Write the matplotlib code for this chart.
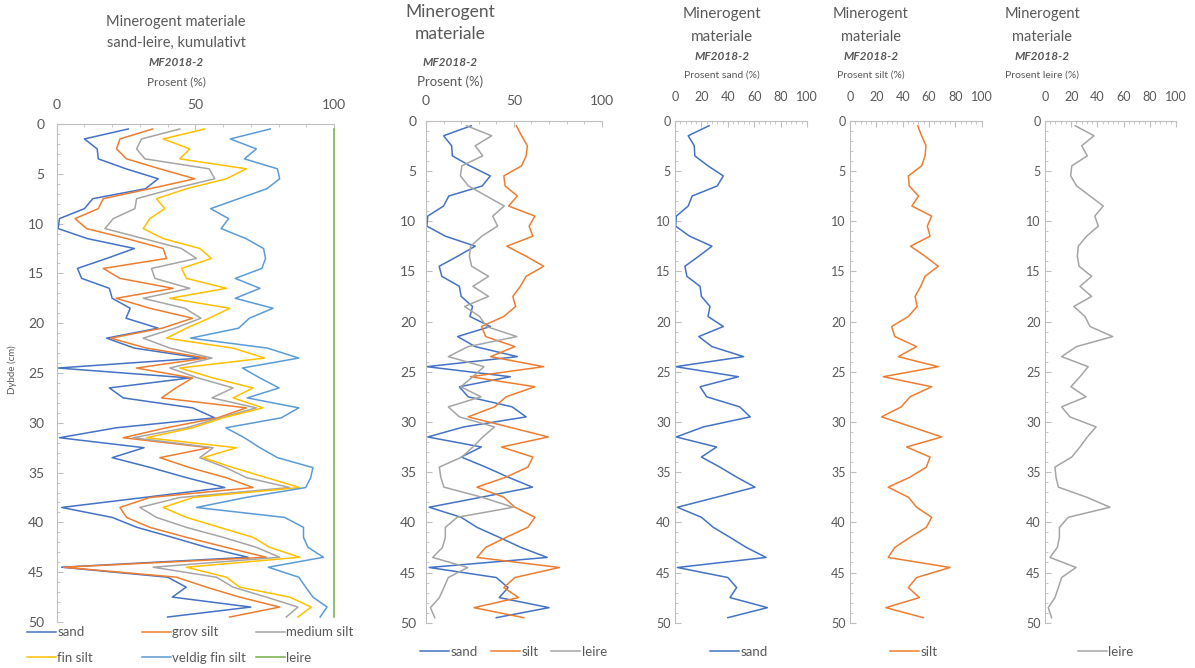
import numpy as np
import matplotlib
matplotlib.use("Agg")
import matplotlib.pyplot as plt
from matplotlib.ticker import MultipleLocator

plt.rcParams['font.family'] = ['Lato', 'DejaVu Sans']

W, H = 1195, 668

# prøvedybder (cm), midtpunkt av hver 1 cm skive
depth = np.arange(0.5, 50, 1.0)

sand = [25.8, 10, 14.6, 15, 25, 36.6, 32, 13, 10, 1,
        0.5, 11, 28, 18, 7.5, 9, 19, 20, 26.5, 25,
        36.6, 18, 28, 52, 0.5, 48, 19, 24, 49, 57,
        21.5, 1, 31.5, 20, 34, 46.7, 60.6, 31.5, 1.8, 20,
        29, 41.7, 54, 69, 1.8, 40, 46.7, 41.7, 70, 40]
silt = [51.4, 54.4, 57.7, 57, 54.4, 44.3, 45, 52, 47, 62,
        58.7, 60.8, 46, 57, 67, 57, 53.7, 49.4, 51, 44.3,
        31.6, 34, 50.6, 36.7, 67, 25.3, 62, 45.6, 39, 24,
        47, 69.6, 43, 60.8, 58, 45.6, 29, 44.3, 50.6, 62,
        58, 45.6, 34, 29, 76, 50.6, 44.3, 52.7, 27.3, 55.7]
leire = [23, 37.4, 28, 32.3, 20.4, 19.6, 24.2, 34.4, 44.5, 38,
         40.7, 31.8, 25.4, 24.7, 26, 35.6, 26.7, 35.6, 22, 30.5,
         34.4, 51.7, 24, 12.7, 33, 26.7, 19.8, 31.3, 12.7, 19,
         39, 32.3, 26.7, 20.4, 7.6, 8.4, 10.2, 31.8, 49.6, 17.8,
         11, 11, 9.4, 3.8, 23.7, 12.7, 10.2, 7.6, 2.5, 5]

# kumulative kurver (sand + grov silt, + medium silt, + fin silt)
kum_grov = [34.6, 22.8, 21.6, 25.2, 37.2, 49.8, 33.6, 16.8, 15, 6.6,
            10.8, 25.2, 38.4, 39.6, 16.8, 22.8, 42, 21.5, 33.6, 49,
            38, 19.5, 32.4, 54, 28.8, 49, 43, 37.8, 68.4, 58,
            39.6, 24, 55, 37.2, 48, 61, 70.8, 33.6, 22.8, 25.2,
            33.6, 46.8, 61, 75.6, 2.5, 43.2, 54, 66, 80.4, 62.4]
kum_medium = [44.4, 30.6, 28.8, 31.8, 55, 57, 42, 28.8, 28.2, 20.4,
              17.4, 31.2, 45, 50.4, 34.2, 35.4, 48, 31.2, 46.2, 52,
              42.6, 31.2, 40.8, 56, 40.8, 51, 63.6, 56, 72, 59,
              46.8, 27.6, 56.4, 51.6, 61, 68.4, 84, 44.4, 30, 36,
              46.8, 60, 72, 80.4, 34.8, 57.6, 63.6, 75.6, 87, 82.8]
kum_fin = [53.4, 38.4, 48, 44.4, 68.4, 61.2, 46.8, 36, 39, 33.6,
           31.2, 38.4, 51.6, 55.8, 45, 46.8, 61.2, 40.8, 62.4, 55,
           46.8, 39.6, 63.6, 75, 44.4, 56.4, 70.8, 63.6, 74.4, 60,
           49, 32.4, 64.8, 52.8, 63.6, 75.6, 87.6, 49.2, 38.4, 46.8,
           58.8, 70.8, 76.8, 87.6, 46.8, 61.2, 66, 84, 91.8, 87]

kum_veldig = 100 - np.array(leire)
kum_leire = kum_veldig + np.array(leire)

C_SAND = '#4472C4'
C_ORANGE = '#ED7D31'
C_GRAY = '#A5A5A5'
C_YELLOW = '#FFC000'
C_LBLUE = '#5B9BD5'
C_GREEN = '#70AD47'
TXT = '#595959'
AX = '#BFBFBF'
LW = 1.1

fig = plt.figure(figsize=(W / 100, H / 100), dpi=100)


def panel(l, r, t, b, xmaj, xmin, fs, xpad, ypad):
    ax = fig.add_axes([l / W, 1 - b / H, (r - l) / W, (b - t) / H])
    ax.set_xlim(0, 100)
    ax.set_ylim(50, 0)
    ax.xaxis.tick_top()
    for s in ['right', 'bottom']:
        ax.spines[s].set_visible(False)
    for s in ['top', 'left']:
        ax.spines[s].set_color(AX)
        ax.spines[s].set_linewidth(0.8)
    ax.xaxis.set_major_locator(MultipleLocator(xmaj))
    ax.xaxis.set_minor_locator(MultipleLocator(xmin))
    ax.yaxis.set_major_locator(MultipleLocator(5))
    ax.yaxis.set_minor_locator(MultipleLocator(1))
    ax.tick_params(which='both', color=AX, labelcolor=TXT, direction='in')
    ax.tick_params(axis='x', which='major', length=4, pad=xpad, labelsize=fs)
    ax.tick_params(axis='x', which='minor', length=2.5)
    ax.tick_params(axis='y', which='major', length=4, pad=ypad, labelsize=fs)
    ax.tick_params(axis='y', which='minor', length=2.5)
    ax.patch.set_alpha(0)
    return ax


def titles(x, lines, ys, sizes):
    for txt, y, kw in zip(lines, ys, sizes):
        fig.text(x / W, 1 - y / H, txt, ha='center', va='center', color=TXT, **kw)


MF = dict(fontsize=8.5, fontweight='bold', fontstyle='italic')

# panel 1: kumulativt
ax1 = panel(56.7, 334, 124, 622, 50, 10, 10, 9.5, 9)
l_sand, = ax1.plot(sand, depth, color=C_SAND, lw=LW, label='sand')
l_grov, = ax1.plot(kum_grov, depth, color=C_ORANGE, lw=LW, label='grov silt')
l_med, = ax1.plot(kum_medium, depth, color=C_GRAY, lw=LW, label='medium silt')
l_fin, = ax1.plot(kum_fin, depth, color=C_YELLOW, lw=LW, label='fin silt')
l_vf, = ax1.plot(kum_veldig, depth, color=C_LBLUE, lw=LW, label='veldig fin silt')
l_lei, = ax1.plot(kum_leire, depth, color=C_GREEN, lw=LW, label='leire', clip_on=False)
fig.text(12 / W, 1 - 370 / H, 'Dybde (cm)', rotation=90, ha='center', va='center',
         color=TXT, fontsize=7)
titles(176, ['Minerogent materiale', 'sand-leire, kumulativt', 'MF2018-2', 'Prosent (%)'],
       [22, 43, 63, 82],
       [dict(fontsize=10.5), dict(fontsize=10.5), MF, dict(fontsize=8.5)])

leg_kw = dict(frameon=False, fontsize=9.5, handlelength=2.2, handletextpad=0.1,
              labelspacing=1.0, borderpad=0, borderaxespad=0, labelcolor=TXT, loc='center left')
for hs, x in [([l_sand, l_fin], 27), ([l_grov, l_vf], 142), ([l_med, l_lei], 256)]:
    fig.legend(handles=hs, bbox_to_anchor=(x / W, 1 - 645 / H), **leg_kw)

# panel 2: sand, silt, leire
ax2 = panel(426, 601.7, 120.7, 622.7, 50, 10, 10, 10, 7)
h2 = [ax2.plot(sand, depth, color=C_SAND, lw=LW, label='sand')[0],
      ax2.plot(silt, depth, color=C_ORANGE, lw=LW, label='silt')[0],
      ax2.plot(leire, depth, color=C_GRAY, lw=LW, label='leire')[0]]
titles(450, ['Minerogent', 'materiale', 'MF2018-2', 'Prosent (%)'], [12, 34, 62, 82],
       [dict(fontsize=12.5), dict(fontsize=12.5), MF, dict(fontsize=9.5)])
fig.legend(handles=h2, ncol=3, columnspacing=1.0, bbox_to_anchor=(420 / W, 1 - 652 / H), **leg_kw)

# panel 3-5
single = [(675, 807, sand, C_SAND, 'sand', 722, 'Prosent sand (%)', 710, 11),
          (850, 981.7, silt, C_ORANGE, 'silt', 871, 'Prosent silt (%)', 890, 10.5),
          (1045, 1176, leire, C_GRAY, 'leire', 1042, 'Prosent leire (%)', 1078, 10.5)]
for l, r, vals, col, lab, tx, xl, lx, tfs in single:
    ax = panel(l, r, 120.7, 622.7, 20, 4, 9, 12.5, 3)
    h, = ax.plot(vals, depth, color=col, lw=LW, label=lab)
    titles(tx, ['Minerogent', 'materiale', 'MF2018-2', xl], [14, 37, 57, 75],
           [dict(fontsize=tfs), dict(fontsize=tfs), MF, dict(fontsize=7.5)])
    fig.legend(handles=[h], bbox_to_anchor=(lx / W, 1 - 652 / H), **leg_kw)

fig.savefig('out.png', dpi=100, facecolor='white')
